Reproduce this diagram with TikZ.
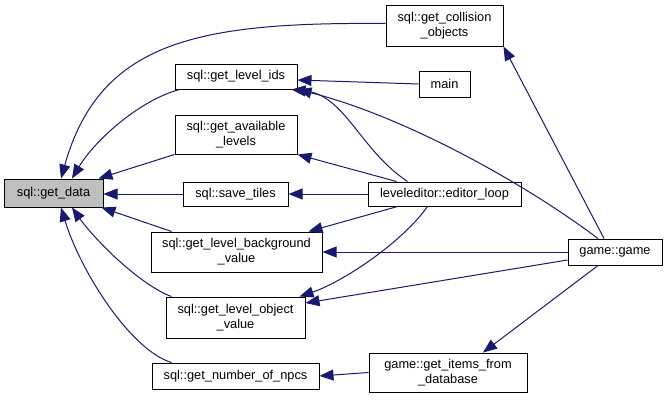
\documentclass[tikz,border=0pt]{standalone}
\usepackage{fontspec}
\setmainfont{Liberation Sans}
\usetikzlibrary{arrows.meta}
\definecolor{edgeblue}{HTML}{191970}
\definecolor{curfill}{HTML}{BFBFBF}
\begin{document}
\begin{tikzpicture}[x=1pt,y=-1pt,
  fn/.style={draw=black, line width=1pt, fill=white, inner sep=0pt, align=center,
    font=\fontsize{12.8}{15}\selectfont},
  cur/.style={fn, fill=curfill},
  call/.style={draw=edgeblue, line width=1pt, -{Triangle[length=14pt,width=11pt]}}]
\useasboundingbox (0,0) rectangle (668,399);

% functions
\node[cur, minimum width=99pt,  minimum height=28pt] (getdata)   at (53.5,193)  {sql::get\_data};
\node[fn,  minimum width=122pt, minimum height=25pt] (levelids)  at (236,76.5)  {sql::get\_level\_ids};
\node[fn,  minimum width=122pt, minimum height=39pt] (avail)     at (236,134.5) {sql::get\_available\\\_levels};
\node[fn,  minimum width=105pt, minimum height=24pt] (savetiles) at (235.5,194) {sql::save\_tiles};
\node[fn,  minimum width=171pt, minimum height=40pt] (bg)        at (236.5,252) {sql::get\_level\_background\\\_value};
\node[fn,  minimum width=139pt, minimum height=41pt] (obj)       at (235.5,317.5) {sql::get\_level\_object\\\_value};
\node[fn,  minimum width=167pt, minimum height=26pt] (npcs)      at (235.5,376) {sql::get\_number\_of\_npcs};
\node[fn,  minimum width=117pt, minimum height=41pt] (collision) at (444.5,25.5) {sql::get\_collision\\\_objects};
\node[fn,  minimum width=51pt,  minimum height=26pt] (main)      at (444.5,84)  {main};
\node[fn,  minimum width=153pt, minimum height=24pt] (editor)    at (444.5,194) {leveleditor::editor\_loop};
\node[fn,  minimum width=158pt, minimum height=39pt] (items)     at (448,372.5) {game::get\_items\_from\\\_database};
\node[fn,  minimum width=94pt,  minimum height=26pt] (game)      at (615,252)   {game::game};

% calls into sql::get_data
\draw[call] ([yshift=2pt]collision.west) .. controls (200,22) and (100,40) .. ([xshift=7.5pt]getdata.north);
\draw[call] ([xshift=5pt]levelids.south west) .. controls (140,100) and (95,140) .. ([xshift=18.5pt]getdata.north);
\draw[call] (avail.south west) -- ([xshift=-5pt]getdata.north east);
\draw[call] (savetiles.west) -- ([yshift=-1pt]getdata.east);
\draw[call] ([xshift=21pt]bg.north west) -- ([xshift=-2pt]getdata.south east);
\draw[call] ([xshift=6pt]obj.north west) .. controls (140,285) and (95,240) .. ([xshift=18.5pt]getdata.south);
\draw[call] ([xshift=20pt]npcs.north west) .. controls (130,350) and (80,270) .. ([xshift=7.5pt]getdata.south);

% callers of the sql functions
\draw[call] ([xshift=-11pt]game.north) -- (collision.south east);
\draw[call] (main.west) -- ([yshift=-3.5pt]levelids.east);
\draw[call] ([xshift=40pt]editor.north west) .. controls (360,150) and (345,95) .. ([xshift=-6pt]levelids.south east);
\draw[call] ([xshift=-17pt]game.north) .. controls (520,180) and (400,115) .. (levelids.south east);
\draw[call] ([xshift=29pt]editor.north west) -- (avail.south east);
\draw[call] (editor.west) -- (savetiles.east);
\draw[call] ([xshift=30pt]editor.south west) -- ([xshift=-14pt]bg.north east);
\draw[call] (game.west) -- (bg.east);
\draw[call] ([xshift=60pt]editor.south west) .. controls (400,245) and (340,283) .. ([xshift=-6pt]obj.north east);
\draw[call] ([yshift=-8pt]game.west) -- ([yshift=14.5pt]obj.east);
\draw[call] ([xshift=-17pt]game.south) -- ([xshift=35pt]items.north);
\draw[call] (items.west) -- (npcs.east);
\end{tikzpicture}
\end{document}
